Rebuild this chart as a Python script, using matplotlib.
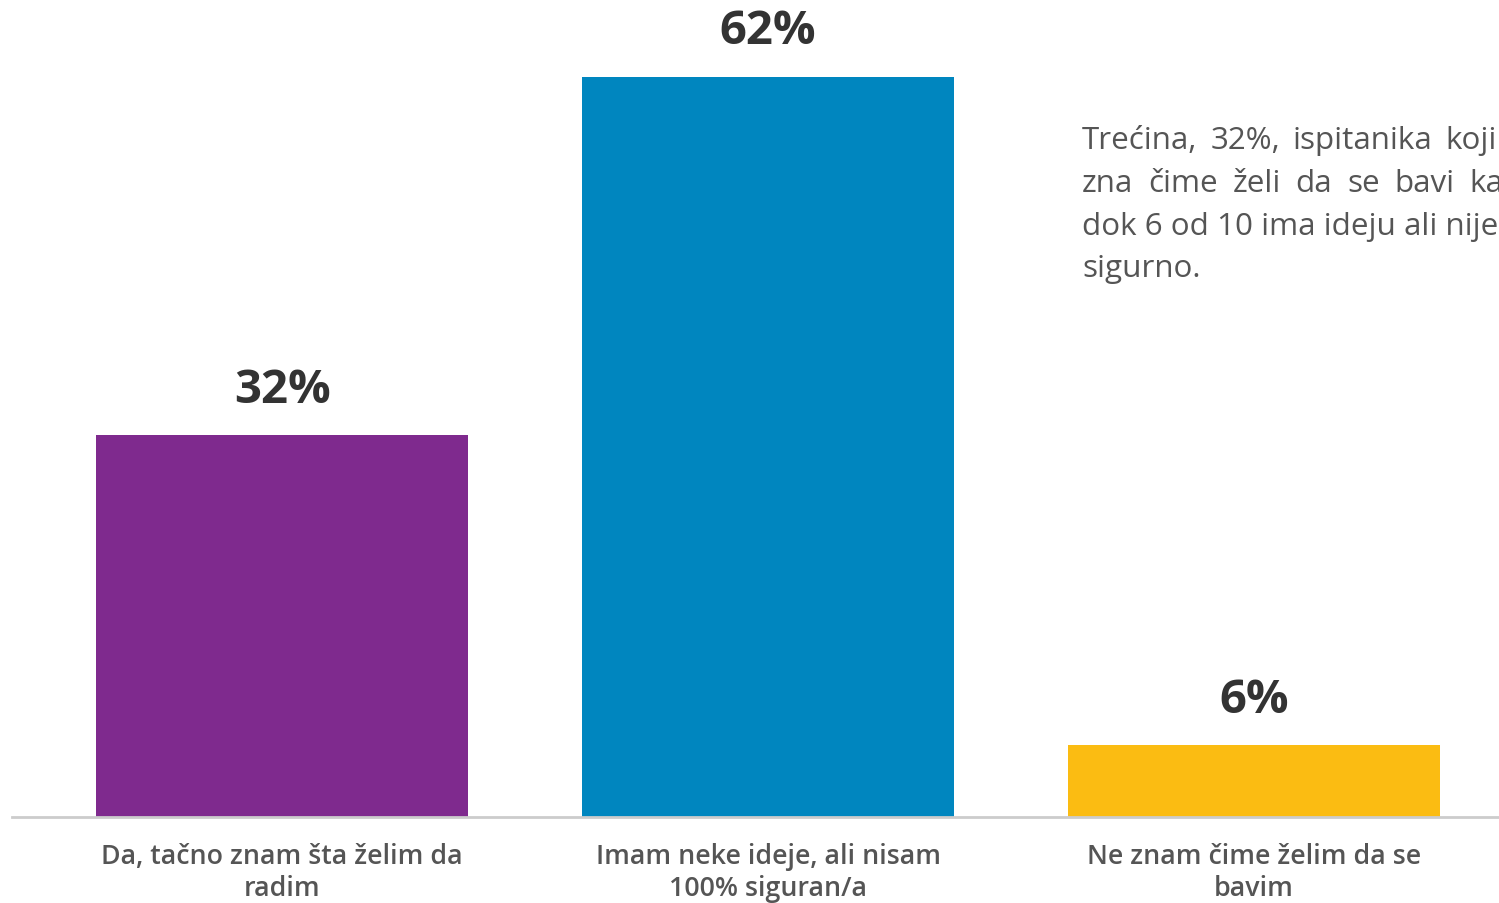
import matplotlib.pyplot as plt

# Data
categories = ["Da, tačno znam šta želim da\nradim",
              "Imam neke ideje, ali nisam\n100% siguran/a",
              "Ne znam čime želim da se\nbavim"]
values = [32, 62, 6]
colors = ["#7F2A8E", "#0086BF", "#FBBC12"]
note_lines = ["Trećina, 32%, ispitanika koji",
              "zna čime želi da se bavi kao",
              "dok 6 od 10 ima ideju ali nije",
              "sigurno."]

plt.rcParams["font.family"] = ["Open Sans", "DejaVu Sans"]

fig = plt.figure(figsize=(14.99, 9.04), dpi=100, facecolor="white")
ax = fig.add_axes([12 / 1499, 86 / 904, 1 - 12 / 1499, 818 / 904])
ax.set_facecolor("white")

x = range(len(values))
bars = ax.bar(x, values, width=0.765, color=colors, zorder=2)

ax.set_xlim(-0.556, 2.504)
ax.set_ylim(0, 68.5)

# value labels on top of bars
for b, v in zip(bars, values):
    ax.annotate(f"{v}%", (b.get_x() + b.get_width() / 2, v),
                xytext=(0, 16), textcoords="offset points",
                ha="center", va="bottom", fontsize=34, fontweight="bold",
                color="#333333")

ax.set_xticks(list(x))
ax.set_xticklabels(categories, fontsize=19.3, fontweight="semibold",
                   color="#555555", linespacing=1.2)
ax.tick_params(axis="x", length=0, pad=18)
ax.set_yticks([])
for s in ["top", "right", "left"]:
    ax.spines[s].set_visible(False)
ax.spines["bottom"].set_color("#cccccc")
ax.spines["bottom"].set_linewidth(2)

# side note, first two lines justified
renderer = fig.canvas.get_renderer()
x0 = 1082
fs = 22.6
line_y = [141, 184, 227, 269]
right_end = [1497, 1522, None, None]
for line, yy, xr in zip(note_lines, line_y, right_end):
    ty = 1 - yy / 904
    if xr is None:
        fig.text(x0 / 1499, ty, line, fontsize=fs, color="#555555",
                 va="center", ha="left")
        continue
    words = line.split(" ")
    widths = []
    for w in words:
        t = fig.text(0, 0, w, fontsize=fs)
        widths.append(t.get_window_extent(renderer).width)
        t.remove()
    gap = (xr - x0 - sum(widths)) / (len(words) - 1)
    cx = x0
    for w, wd in zip(words, widths):
        fig.text(cx / 1499, ty, w, fontsize=fs, color="#555555",
                 va="center", ha="left")
        cx += wd + gap

fig.savefig("out.png", dpi=100, facecolor="white")
